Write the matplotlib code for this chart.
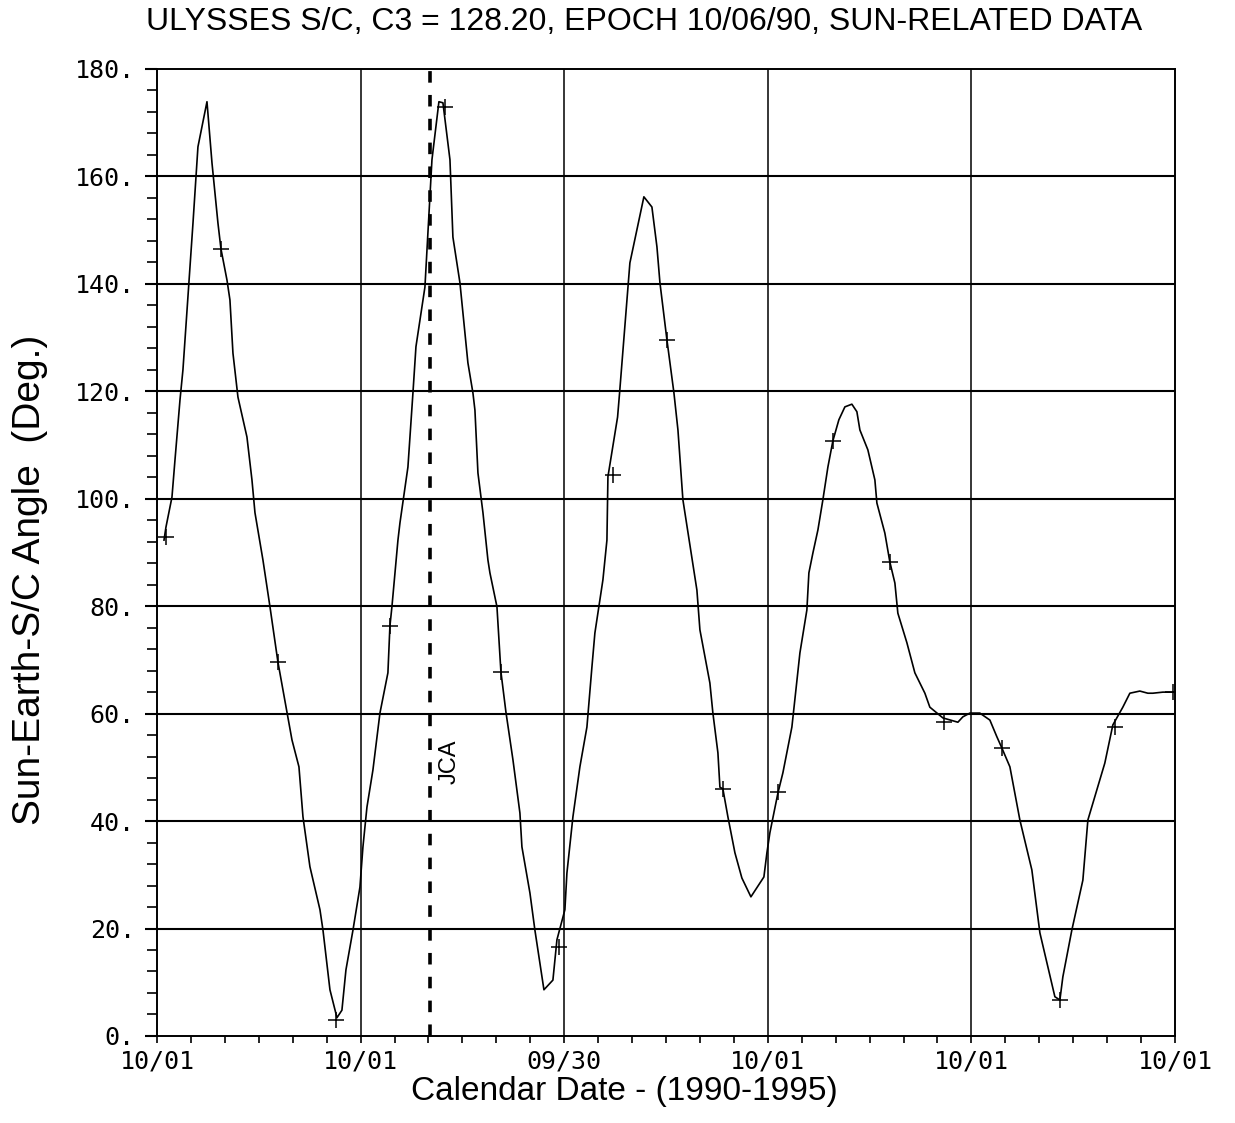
import numpy as np
import matplotlib
matplotlib.use('Agg')
import matplotlib.pyplot as plt
import matplotlib.transforms as mtransforms


#data ----------------(1)
# days after 10/01/1990, angle in degrees
days = [12.6, 16.1, 26.9, 32.3, 41.3, 46.6, 55.6, 64.6, 73.5, 89.7,
        98.7, 109.4, 114.8, 125.6, 130.9, 136.3, 145.3, 161.4, 170.4, 175.8,
        190.1, 202.7, 217.0, 233.2, 242.2, 254.7, 261.9, 274.4, 292.4, 297.8,
        310.3, 322.9, 331.8, 339.0, 351.6, 364.1, 369.5, 376.7, 387.4, 400.0,
        414.3, 417.9, 421.5, 432.3, 435.9, 450.2, 459.2, 464.6, 480.7, 493.3,
        505.8, 513.0, 525.6, 530.9, 543.5, 557.8, 566.8, 570.4, 575.8, 584.8,
        593.7, 597.3, 609.9, 611.7, 617.0, 626.0, 638.6, 651.1, 654.7, 669.1,
        678.0, 694.2, 710.3, 717.5, 731.8, 735.4, 746.2, 758.7, 771.3, 780.3,
        785.6, 794.6, 800.0, 807.2, 809.0, 826.3, 829.9, 848.4, 873.5, 887.9,
        896.9, 902.3, 914.8, 927.4, 934.6, 943.5, 956.0, 968.6, 974.0, 991.9,
        997.3, 1006.3, 1009.9, 1015.2, 1024.2, 1036.8, 1049.3, 1065.5, 1088.8, 1094.2,
        1099.5, 1113.9, 1122.9, 1139.0, 1153.4, 1165.9, 1169.5, 1176.7, 1185.7, 1194.6,
        1203.6, 1212.6, 1223.3, 1234.1, 1246.6, 1255.6, 1261.0, 1275.3, 1287.9, 1291.5,
        1305.8, 1314.8, 1323.8, 1329.1, 1345.3, 1359.6, 1377.6, 1386.5, 1409.9, 1436.8,
        1445.7, 1458.3, 1476.2, 1494.2, 1506.7, 1515.7, 1530.1, 1548.0, 1569.5, 1583.9,
        1610.8, 1619.8, 1625.1, 1641.2, 1661.0, 1670.0, 1686.1, 1700.4, 1714.8, 1732.7,
        1745.3, 1763.2, 1777.6, 1786.5, 1804.5, 1822.4]
angle = [92.3, 94.7, 100.3, 107.2, 118.4, 124.0, 137.6, 151.3, 165.5, 173.9,
         162.5, 151.3, 146.5, 140.7, 137.0, 127.1, 118.9, 111.5, 103.5, 97.4,
         88.6, 79.9, 69.6, 60.3, 55.1, 50.1, 40.8, 31.5, 23.5, 19.7,
         8.6, 3.4, 4.8, 12.3, 19.7, 27.7, 35.2, 42.6, 49.5, 60.1,
         67.6, 76.3, 79.9, 92.3, 95.5, 105.9, 119.7, 128.3, 139.4, 163.1,
         173.9, 173.7, 163.1, 148.7, 140.2, 125.3, 119.7, 116.5, 104.8, 97.4,
         88.6, 86.2, 79.9, 76.9, 67.8, 60.3, 51.4, 41.5, 35.2, 26.6,
         19.7, 8.6, 10.4, 17.9, 23.5, 30.3, 40.8, 50.1, 57.5, 68.7,
         75.0, 81.2, 84.9, 92.3, 104.1, 115.2, 119.7, 143.9, 156.2, 154.3,
         146.9, 140.2, 129.6, 119.7, 112.8, 99.8, 91.4, 83.0, 75.6, 65.7,
         60.1, 52.7, 46.3, 46.0, 40.8, 34.1, 29.4, 25.9, 29.6, 34.1,
         37.8, 45.2, 49.0, 57.5, 71.3, 79.3, 86.2, 89.9, 94.2, 99.8,
         105.9, 110.8, 114.7, 117.1, 117.6, 116.2, 112.8, 109.1, 103.5, 99.2,
         93.6, 88.2, 84.3, 78.7, 73.2, 67.6, 63.8, 61.2, 59.2, 58.4,
         59.4, 60.1, 60.1, 58.8, 55.7, 53.6, 50.1, 40.2, 30.9, 19.2,
         7.3, 6.7, 11.0, 19.7, 29.0, 40.2, 45.8, 50.8, 57.9, 61.2,
         63.8, 64.2, 63.8, 63.8, 64.0, 64.0]

# tick marks every ~100 days
mark_days = [16.1, 114.8, 217.0, 321.1, 417.9, 516.6, 617.0, 721.0, 817.9, 914.8,
             1015.2, 1113.9, 1212.6, 1314.8, 1411.7, 1515.7, 1619.8, 1718.4, 1822.4]
mark_angle = [92.9, 146.5, 69.6, 3.0, 76.3, 173.0, 67.8, 16.6, 104.4, 129.6,
              46.0, 45.4, 110.8, 88.2, 58.4, 53.6, 6.7, 57.5, 64.0]

jca_day = 490.0

year_labels = ['10/01', '10/01', '09/30', '10/01', '10/01', '10/01']
y_labels = ['0.', '20.', '40.', '60.', '80.', '100.', '120.', '140.', '160.', '180.']


#figure ----------------(2)
fig = plt.figure(figsize=(12.35, 11.23), dpi=100)
ax = fig.add_axes([0.1271, 0.0775, 0.8243, 0.8611])

year_pos = np.arange(len(year_labels)) * 365.25
ax.set_xlim(0, year_pos[-1])
ax.set_ylim(0, 180)

ax.grid(False)
for xp in year_pos[1:-1]:
    ax.axvline(xp, color='black', lw=1.1, zorder=1)
for yv in range(20, 180, 20):
    ax.axhline(yv, color='black', lw=1.5, zorder=1)

ax.plot(days, angle, color='black', lw=1.2, zorder=3)
ax.plot(mark_days, mark_angle, ls='none', marker='+', ms=11, mew=1.1,
        color='black', zorder=4)

ax.axvline(jca_day, color='black', lw=2.6, ls=(0, (3.2, 3.4)), zorder=2)
off = mtransforms.offset_copy(ax.transData, fig=fig, x=20, y=0, units='dots')
ax.text(jca_day, 51, 'JCA', rotation=90, ha='center', va='center',
        fontsize=17, family='Liberation Sans', transform=off)

#ticks ----------------(3)
ax.set_xticks(year_pos)
ax.set_xticklabels(year_labels, family='DejaVu Sans Mono', fontsize=18)
ax.set_xticks(np.arange(0, year_pos[-1] + 1, 365.25 / 6), minor=True)
ax.set_yticks(np.arange(0, 181, 20))
ax.set_yticklabels(y_labels, family='DejaVu Sans Mono', fontsize=18)
ax.set_yticks(np.arange(0, 181, 4), minor=True)

ax.tick_params(axis='x', which='both', direction='out', length=5, width=1.2, pad=5)
ax.tick_params(axis='y', which='major', direction='out', length=9, width=1.5, pad=7)
ax.tick_params(axis='y', which='minor', direction='out', length=7, width=1.2)
ax.tick_params(top=False, right=False)

for s in ax.spines.values():
    s.set_linewidth(1.4)

#labels ----------------(4)
ax.set_xlabel('Calendar Date - (1990-1995)', fontsize=24, family='Liberation Sans')
ax.xaxis.set_label_coords(0.4587, -0.041)
ax.set_ylabel('Sun-Earth-S/C Angle  (Deg.)', fontsize=28, family='Liberation Sans')
ax.yaxis.set_label_coords(-0.107, 0.4716)
fig.text(0.5215, 0.980, 'ULYSSES S/C, C3 = 128.20, EPOCH 10/06/90, SUN-RELATED DATA',
         ha='center', va='center', fontsize=23, family='Liberation Sans')

plt.savefig('out.png', dpi=100)
